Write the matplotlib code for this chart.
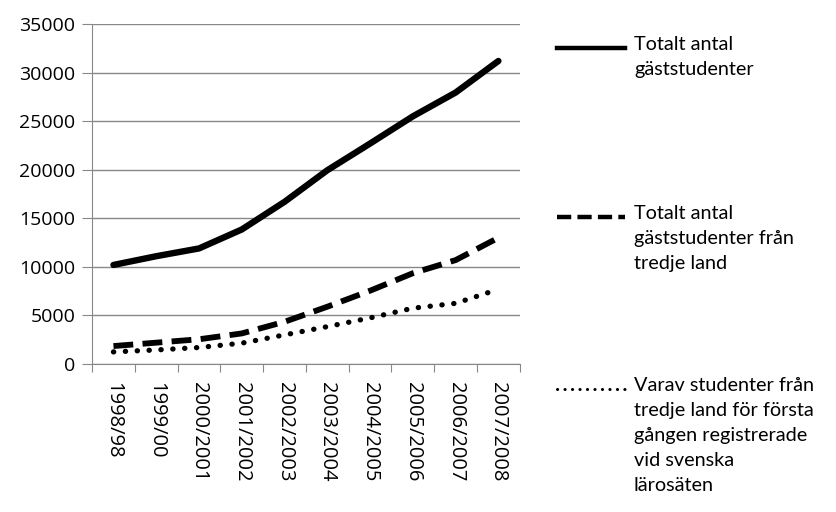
import matplotlib.pyplot as plt
from matplotlib.lines import Line2D

plt.rcParams['font.family'] = ['Lato', 'DejaVu Sans']

# Läsår och antal studenter
years = ['1998/98', '1999/00', '2000/2001', '2001/2002', '2002/2003',
         '2003/2004', '2004/2005', '2005/2006', '2006/2007', '2007/2008']
totalt = [10200, 11100, 11900, 13850, 16700, 19950, 22700, 25500, 27950, 31200]
tredje_land = [1850, 2200, 2550, 3150, 4350, 5900, 7550, 9350, 10700, 13000]
forsta_gangen = [1250, 1450, 1700, 2150, 3000, 3850, 4750, 5750, 6250, 7700]

labels = ['Totalt antal\ngäststudenter',
          'Totalt antal\ngäststudenter från\ntredje land',
          'Varav studenter från\ntredje land för första\ngången registrerade\nvid svenska\nlärosäten']

fig = plt.figure(figsize=(8.37, 5.12), dpi=100)
ax = fig.add_axes([0.110, 0.289, 0.511, 0.664])

x = list(range(len(years)))
ax.plot(x, totalt, color='black', lw=4.6, solid_capstyle='round')
ax.plot(x, tredje_land, color='black', lw=4.2, linestyle=(0, (3.4, 1.6)))
ax.plot(x, forsta_gangen, color='black', lw=3.8, linestyle=(0, (0.05, 2.2)),
        dash_capstyle='round')

ax.set_xlim(-0.5, len(years) - 0.5)
ax.set_ylim(0, 35000)
ax.set_yticks(range(0, 35001, 5000))
ax.set_xticks([i - 0.5 for i in range(len(years) + 1)], minor=False)
ax.set_xticklabels([])
ax.set_xticks(x, minor=True)
ax.set_xticklabels(years, minor=True, rotation=270, fontsize=14.5,
                   family=['Open Sans', 'DejaVu Sans'])
ax.tick_params(axis='x', which='minor', length=0, pad=13)
ax.tick_params(axis='x', which='major', length=6, color='#888888')
ax.tick_params(axis='y', length=7, color='#888888', labelsize=14, pad=5)
for t in ax.get_yticklabels():
    t.set_family(['Open Sans', 'DejaVu Sans'])

ax.grid(axis='y', color='#888888', lw=1)
ax.set_axisbelow(True)
for side in ['top', 'right']:
    ax.spines[side].set_visible(False)
ax.spines['left'].set_color('#888888')
ax.spines['bottom'].set_color('#888888')

# Förklaring till höger
styles = [dict(lw=3.2), dict(lw=3.2, linestyle=(0, (3.2, 1.4))),
          dict(lw=2.2, linestyle=(0, (0.05, 2.4)), dash_capstyle='round')]
ys = [464, 295, 123]
for st, yy, lab in zip(styles, ys, labels):
    yf = yy / 512
    fig.add_artist(Line2D([557 / 837, 625 / 837], [yf, yf], color='black',
                          transform=fig.transFigure, **st))
    fig.text(634 / 837, yf + 12 / 512, lab, fontsize=14.3, va='top', ha='left',
             linespacing=1.58)

fig.savefig('out.png', dpi=100)
